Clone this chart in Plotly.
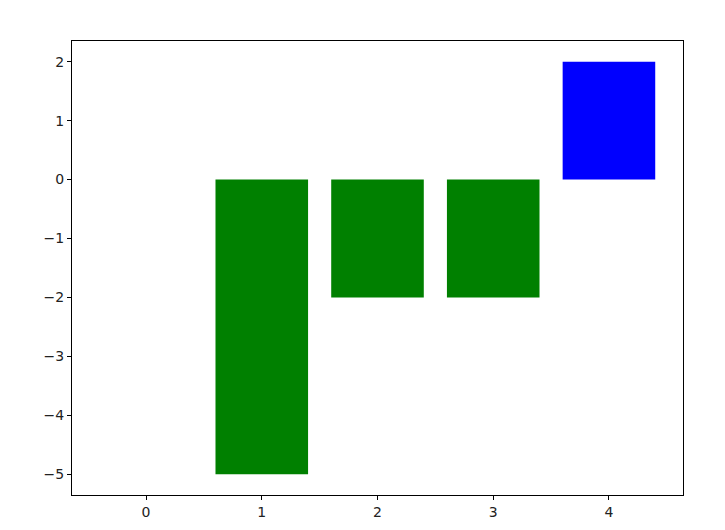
import plotly.graph_objects as go

positions = [0, 1, 2, 3, 4]
values = [0, -5, -2, -2, 2]
colors = ["blue" if v > 0 else "green" for v in values]

fig = go.Figure(
    go.Bar(
        x=positions,
        y=values,
        width=0.8,
        marker=dict(color=colors, line=dict(width=0)),
    )
)

axis_style = dict(
    showline=True,
    linecolor="black",
    linewidth=1,
    mirror=True,
    ticks="outside",
    ticklen=4,
    tickcolor="black",
    showgrid=False,
    zeroline=False,
    automargin=False,
    tickfont=dict(family="DejaVu Sans", size=14, color="#222222"),
)

fig.update_xaxes(range=[-0.64, 4.64], tickvals=positions, **axis_style)
fig.update_yaxes(range=[-5.35, 2.35], dtick=1, **axis_style)

# page has an 8px body margin, so keep the figure inside the window
fig.update_layout(
    width=709,
    height=514,
    margin=dict(l=64, r=34, t=33, b=27),
    plot_bgcolor="white",
    paper_bgcolor="white",
    showlegend=False,
)

fig.write_html("out.html")
